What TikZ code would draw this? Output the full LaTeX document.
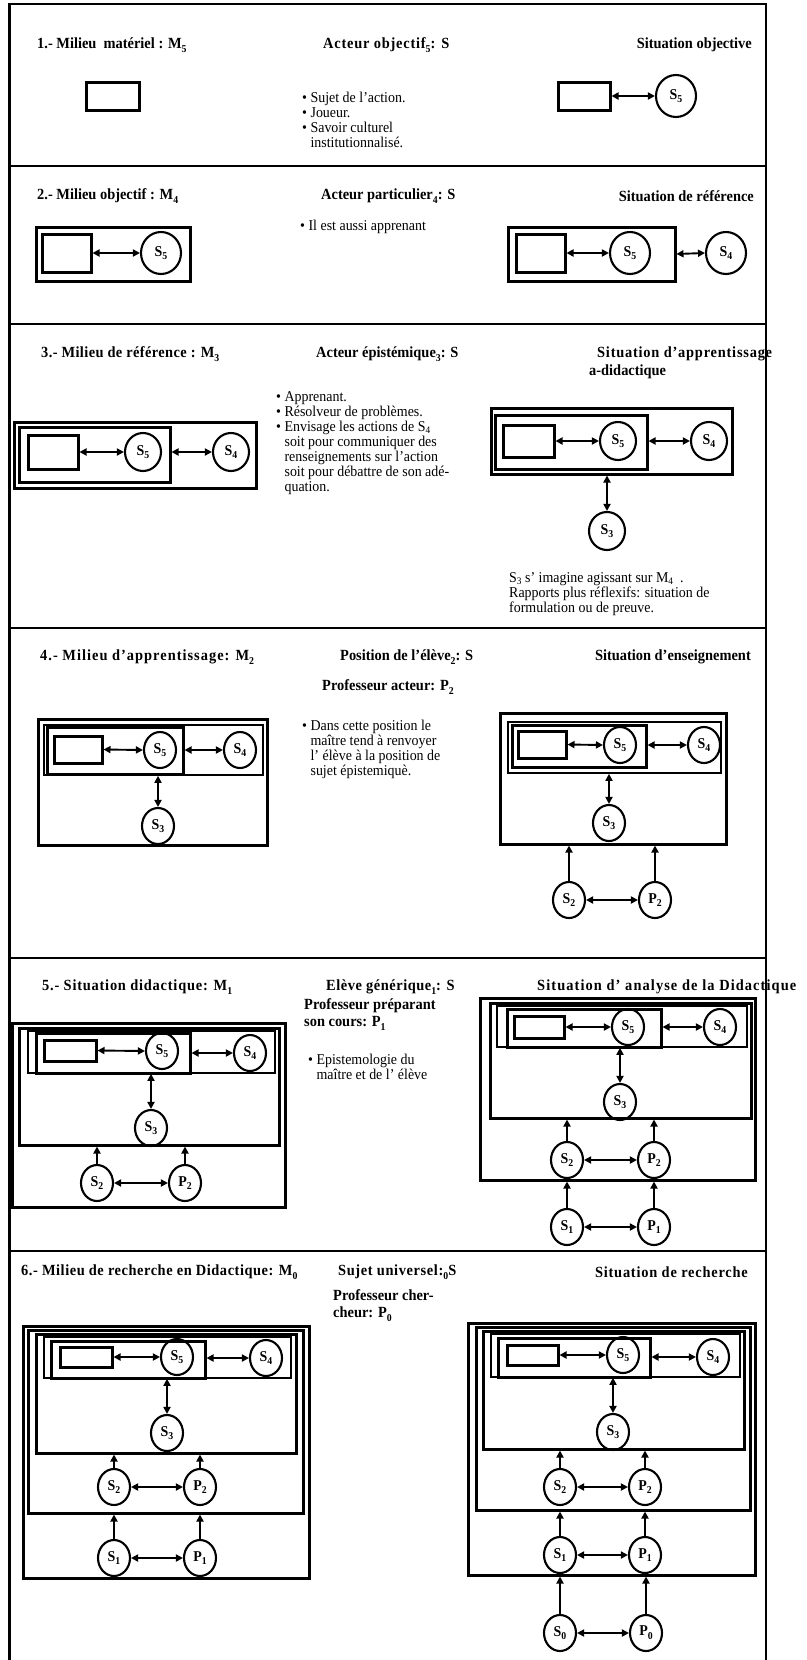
\documentclass[tikz,border=0pt]{standalone}
\usepackage{fontspec}
\setmainfont{Liberation Serif}[FakeStretch=0.93]
\usetikzlibrary{positioning,fit,shapes.geometric,arrows.meta}
\newcommand\ix[1]{\raisebox{-0.55ex}{\fontsize{10.5}{10.5}\selectfont #1}}
\newcommand\jx[1]{\raisebox{-0.35ex}{\fontsize{10}{10}\selectfont #1}}
\newcommand\titlefont{\fontsize{15.5}{17}\selectfont\bfseries}
\newcommand\bodyfont{\fontsize{15}{15}\selectfont}
\newcommand\agentfont{\fontsize{15}{16}\selectfont\bfseries}
\newcommand\suite{\phantom{\textbullet\ }}

\begin{document}
\begin{tikzpicture}[x=1pt, y=-1pt,
  cadre/.style={line width=2.4pt},
  sep/.style={line width=2.6pt},
  titre/.style={font=\titlefont, inner sep=0pt},
  espace/.style={font=\titlefont\addfontfeature{LetterSpace=#1}},
  texte/.style={font=\bodyfont, align=left, inner sep=0pt, anchor=north west},
  epais/.style={draw, line width=3pt, inner sep=0pt},
  mince/.style={draw, line width=1.6pt, inner sep=0pt},
  agent/.style={ellipse, draw, line width=2.1pt, inner sep=0pt,
                minimum width=32pt, minimum height=36pt, font=\agentfont},
  grand/.style={minimum width=40pt, minimum height=42pt},
  moyen/.style={minimum width=36pt, minimum height=38pt},
  dbl/.style={{Triangle[length=7pt,width=7pt]}-{Triangle[length=7pt,width=7pt]}, line width=1.9pt},
  monte/.style={-{Triangle[length=7pt,width=7pt]}, line width=1.9pt}]
  \useasboundingbox (0,0) rectangle (806,1660);
  % --- frame and rows
  \draw[cadre] (9.5,1660) -- (9.5,4) -- (766,4) -- (766,1660);
  \foreach \y in {166,324,628,958,1251}
    \draw[sep] (9.5,\y) -- (766,\y);

  % --- 1. milieu materiel
  \node[titre, anchor=west] (t1) at (37,45)  {1.- Milieu~ matériel : M\ix{5}};
  \node[titre, espace=5, anchor=west] (a1) at (323,45) {Acteur objectif\ix{5}: S};
  \node[titre, anchor=east] (s1) at (752,45) {Situation objective};
  \node[texte] (b1) at (302,92) {\textbullet\ Sujet de l'action.\\ \textbullet\ Joueur.\\
    \textbullet\ Savoir culturel\\ \suite institutionnalisé.};
  \node[epais, fit={(86,82) (139,110)}] (m5g1) {};
  \node[epais, fit={(558,82) (610,110)}] (m5d1) {};
  \node[agent, grand] (s5d1) at (676,96) {S\ix{5}};
  \draw[dbl] (m5d1.east) -- (s5d1.west);

  % --- 2. milieu objectif
  \node[titre, anchor=west] (t2) at (37,196)  {2.- Milieu objectif : M\ix{4}};
  \node[titre, anchor=west] (a2) at (321,196) {Acteur particulier\ix{4}: S};
  \node[titre, anchor=east] (s2) at (754,196) {Situation de référence};
  \node[texte] (b2) at (300,220) {\textbullet\ Il est aussi apprenant};
  \node[epais, fit={(36,227) (190,281)}] (m4g2) {};
  \node[epais, fit={(42,234) (91,272)}] (m5g2) {};
  \node[agent, grand] (s5g2) at (161,253) {S\ix{5}};
  \draw[dbl] (m5g2.east) -- (s5g2.west);
  \node[epais, fit={(508,227) (675,281)}] (m4d2) {};
  \node[epais, fit={(516,234) (565,272)}] (m5d2) {};
  \node[agent, grand] (s5d2) at (630,253) {S\ix{5}};
  \node[agent, grand] (s4d2) at (726,253) {S\ix{4}};
  \draw[dbl] (m5d2.east) -- (s5d2.west);
  \draw[dbl] (m4d2.east) -- (s4d2.west);

  % --- 3. milieu de reference
  \node[titre, espace=2.5, anchor=west] (t3) at (41,354) {3.- Milieu de référence : M\ix{3}};
  \node[titre, anchor=west] (a3) at (316,354)  {Acteur épistémique\ix{3}: S};
  \node[titre, espace=5, anchor=west] (s3) at (597,354) {Situation d'apprentissage};
  \node[titre, anchor=west] (s3b) at (589,372) {a-didactique};
  \node[texte] (b3) at (276,391) {\textbullet\ Apprenant.\\ \textbullet\ Résolveur de problèmes.\\
    \textbullet\ Envisage les actions de S\jx{4}\\ \suite soit pour communiquer des\\
    \suite renseignements sur l'action\\ \suite soit pour débattre de son adé-\\ \suite quation.};
  \node[epais, fit={(14,422) (256,488)}] (m3g3) {};
  \node[epais, fit={(19,427) (170,482)}] (m4g3) {};
  \node[epais, fit={(28,435) (78,469)}] (m5g3) {};
  \node[agent, moyen] (s5g3) at (143,452) {S\ix{5}};
  \node[agent, moyen] (s4g3) at (231,452) {S\ix{4}};
  \draw[dbl] (m5g3.east) -- (s5g3.west);
  \draw[dbl] (m4g3.east |- s4g3) -- (s4g3.west);
  \node[epais, fit={(491,408) (732,474)}] (m3d3) {};
  \node[epais, fit={(495,415) (647,469)}] (m4d3) {};
  \node[epais, fit={(503,425) (554,457)}] (m5d3) {};
  \node[agent, moyen] (s5d3) at (618,441) {S\ix{5}};
  \node[agent, moyen] (s4d3) at (709,441) {S\ix{4}};
  \node[agent, moyen] (s3d3) at (607,531) {S\ix{3}};
  \draw[dbl] (m5d3.east) -- (s5d3.west);
  \draw[dbl] (m4d3.east |- s4d3) -- (s4d3.west);
  \draw[dbl] (s3d3 |- m3d3.south) -- (s3d3.north);
  \node[texte] (n3) at (509,572) {S\jx{3} s' imagine agissant sur M\jx{4}~~.\\
    Rapports plus réflexifs: situation de\\ formulation ou de preuve.};

  % --- 4. milieu d'apprentissage
  \node[titre, espace=6.5, anchor=west] (t4) at (40,657) {4.- Milieu d'apprentissage: M\ix{2}};
  \node[titre, anchor=west] (a4) at (340,657) {Position de l'élève\ix{2}: S};
  \node[titre, anchor=west] (p4) at (322,687) {Professeur acteur: P\ix{2}};
  \node[titre, anchor=east] (s4) at (751,657) {Situation d'enseignement};
  \node[texte] (b4) at (302,720) {\textbullet\ Dans cette position le\\ \suite maître tend à renvoyer\\
    \suite l' élève à la position de\\ \suite sujet épistemiquè.};
  \node[epais, fit={(38,719) (267,845)}] (m2g4) {};
  \node[mince, fit={(44,725) (263,775)}] (m3g4) {};
  \node[epais, fit={(47,727) (183,774)}] (m4g4) {};
  \node[epais, fit={(54,736) (102,763)}] (m5g4) {};
  \node[agent] (s5g4) at (160,750) {S\ix{5}};
  \node[agent] (s4g4) at (240,750) {S\ix{4}};
  \node[agent] (s3g4) at (158,826) {S\ix{3}};
  \draw[dbl] (m5g4.east) -- (s5g4.west);
  \draw[dbl] (m4g4.east |- s4g4) -- (s4g4.west);
  \draw[dbl] (s3g4 |- m3g4.south) -- (s3g4.north);
  \node[epais, fit={(500,713) (726,844)}] (m2d4) {};
  \node[mince, fit={(508,722) (721,773)}] (m3d4) {};
  \node[epais, fit={(512,725) (646,767)}] (m4d4) {};
  \node[epais, fit={(518,731) (566,758)}] (m5d4) {};
  \node[agent] (s5d4) at (620,745) {S\ix{5}};
  \node[agent] (s4d4) at (704,745) {S\ix{4}};
  \node[agent] (s3d4) at (609,823) {S\ix{3}};
  \node[agent] (s2d4) at (569,900) {S\ix{2}};
  \node[agent] (p2d4) at (655,900) {P\ix{2}};
  \draw[dbl] (m5d4.east) -- (s5d4.west);
  \draw[dbl] (m4d4.east |- s4d4) -- (s4d4.west);
  \draw[dbl] (s3d4 |- m3d4.south) -- (s3d4.north);
  \draw[monte] (s2d4.north) -- (s2d4 |- m2d4.south);
  \draw[monte] (p2d4.north) -- (p2d4 |- m2d4.south);
  \draw[dbl] (s2d4.east) -- (p2d4.west);

  % --- 5. situation didactique
  \node[titre, espace=5, anchor=west] (t5) at (42,987) {5.- Situation didactique: M\ix{1}};
  \node[titre, espace=3.5, anchor=west] (a5) at (326,987) {Elève générique\ix{1}: S};
  \node[titre, anchor=north west, align=left] (p5) at (304,998) {Professeur préparant\\ son cours: P\ix{1}};
  \node[titre, espace=7, anchor=west] (s5) at (537,987) {Situation d' analyse de la Didactique};
  \node[texte] (b5) at (308,1054) {\textbullet\ Epistemologie du\\ \suite maître et de l' élève};
  \node[epais, fit={(12,1023) (285,1207)}] (m1g5) {};
  \node[epais, fit={(19,1028) (279,1145)}] (m2g5) {};
  \node[mince, fit={(28,1031) (275,1073)}] (m3g5) {};
  \node[epais, fit={(36,1033) (190,1073)}] (m4g5) {};
  \node[epais, fit={(44,1040) (96,1061)}] (m5g5) {};
  \node[agent] (s5g5) at (162,1051) {S\ix{5}};
  \node[agent] (s4g5) at (250,1053) {S\ix{4}};
  \node[agent] (s3g5) at (151,1128) {S\ix{3}};
  \node[agent] (s2g5) at (97,1183)  {S\ix{2}};
  \node[agent] (p2g5) at (185,1183) {P\ix{2}};
  \draw[dbl] (m5g5.east) -- (s5g5.west);
  \draw[dbl] (m4g5.east |- s4g5) -- (s4g5.west);
  \draw[dbl] (s3g5 |- m3g5.south) -- (s3g5.north);
  \draw[monte] (s2g5.north) -- (s2g5 |- m2g5.south);
  \draw[monte] (p2g5.north) -- (p2g5 |- m2g5.south);
  \draw[dbl] (s2g5.east) -- (p2g5.west);
  \node[epais, fit={(480,998) (755,1180)}] (m1d5) {};
  \node[epais, fit={(490,1003) (751,1118)}] (m2d5) {};
  \node[mince, fit={(497,1006) (747,1047)}] (m3d5) {};
  \node[epais, fit={(507,1009) (661,1047)}] (m4d5) {};
  \node[epais, fit={(514,1016) (564,1038)}] (m5d5) {};
  \node[agent] (s5d5) at (628,1027) {S\ix{5}};
  \node[agent] (s4d5) at (720,1027) {S\ix{4}};
  \node[agent] (s3d5) at (620,1102) {S\ix{3}};
  \node[agent] (s2d5) at (567,1160) {S\ix{2}};
  \node[agent] (p2d5) at (654,1160) {P\ix{2}};
  \node[agent] (s1d5) at (567,1227) {S\ix{1}};
  \node[agent] (p1d5) at (654,1227) {P\ix{1}};
  \draw[dbl] (m5d5.east) -- (s5d5.west);
  \draw[dbl] (m4d5.east |- s4d5) -- (s4d5.west);
  \draw[dbl] (s3d5 |- m3d5.south) -- (s3d5.north);
  \draw[monte] (s2d5.north) -- (s2d5 |- m2d5.south);
  \draw[monte] (p2d5.north) -- (p2d5 |- m2d5.south);
  \draw[dbl] (s2d5.east) -- (p2d5.west);
  \draw[monte] (s1d5.north) -- (s1d5 |- m1d5.south);
  \draw[monte] (p1d5.north) -- (p1d5 |- m1d5.south);
  \draw[dbl] (s1d5.east) -- (p1d5.west);

  % --- 6. milieu de recherche
  \node[titre, espace=3.5, anchor=west] (t6) at (21,1272) {6.- Milieu de recherche en Didactique: M\ix{0}};
  \node[titre, espace=4, anchor=west] (a6) at (338,1272) {Sujet universel:\ix{0}S};
  \node[titre, anchor=north west, align=left] (p6) at (333,1289) {Professeur cher-\\ cheur: P\ix{0}};
  \node[titre, espace=5, anchor=east] (s6) at (748,1272) {Situation de recherche};
  \node[epais, fit={(23,1326) (309,1578)}] (m0g6) {};
  \node[epais, fit={(28,1330) (303,1513)}] (m1g6) {};
  \node[epais, fit={(36,1334) (296,1453)}] (m2g6) {};
  \node[mince, fit={(44,1337) (291,1378)}] (m3g6) {};
  \node[epais, fit={(51,1341) (205,1378)}] (m4g6) {};
  \node[epais, fit={(60,1347) (112,1367)}] (m5g6) {};
  \node[agent] (s5g6) at (177,1357) {S\ix{5}};
  \node[agent] (s4g6) at (266,1358) {S\ix{4}};
  \node[agent] (s3g6) at (167,1433) {S\ix{3}};
  \node[agent] (s2g6) at (114,1487) {S\ix{2}};
  \node[agent] (p2g6) at (200,1487) {P\ix{2}};
  \node[agent] (s1g6) at (114,1558) {S\ix{1}};
  \node[agent] (p1g6) at (200,1558) {P\ix{1}};
  \draw[dbl] (m5g6.east) -- (s5g6.west);
  \draw[dbl] (m4g6.east |- s4g6) -- (s4g6.west);
  \draw[dbl] (s3g6 |- m3g6.south) -- (s3g6.north);
  \draw[monte] (s2g6.north) -- (s2g6 |- m2g6.south);
  \draw[monte] (p2g6.north) -- (p2g6 |- m2g6.south);
  \draw[dbl] (s2g6.east) -- (p2g6.west);
  \draw[monte] (s1g6.north) -- (s1g6 |- m1g6.south);
  \draw[monte] (p1g6.north) -- (p1g6 |- m1g6.south);
  \draw[dbl] (s1g6.east) -- (p1g6.west);
  \node[epais, fit={(468,1323) (755,1575)}] (m0d6) {};
  \node[epais, fit={(476,1327) (750,1510)}] (m1d6) {};
  \node[epais, fit={(483,1331) (744,1449)}] (m2d6) {};
  \node[mince, fit={(491,1334) (740,1377)}] (m3d6) {};
  \node[epais, fit={(498,1338) (650,1377)}] (m4d6) {};
  \node[epais, fit={(507,1345) (558,1365)}] (m5d6) {};
  \node[agent] (s5d6) at (623,1355) {S\ix{5}};
  \node[agent] (s4d6) at (713,1357) {S\ix{4}};
  \node[agent] (s3d6) at (613,1432) {S\ix{3}};
  \node[agent] (s2d6) at (560,1487) {S\ix{2}};
  \node[agent] (p2d6) at (645,1487) {P\ix{2}};
  \node[agent] (s1d6) at (560,1555) {S\ix{1}};
  \node[agent] (p1d6) at (645,1555) {P\ix{1}};
  \node[agent] (s0d6) at (560,1633) {S\ix{0}};
  \node[agent] (p0d6) at (646,1633) {P\ix{0}};
  \draw[dbl] (m5d6.east) -- (s5d6.west);
  \draw[dbl] (m4d6.east |- s4d6) -- (s4d6.west);
  \draw[dbl] (s3d6 |- m3d6.south) -- (s3d6.north);
  \draw[monte] (s2d6.north) -- (s2d6 |- m2d6.south);
  \draw[monte] (p2d6.north) -- (p2d6 |- m2d6.south);
  \draw[dbl] (s2d6.east) -- (p2d6.west);
  \draw[monte] (s1d6.north) -- (s1d6 |- m1d6.south);
  \draw[monte] (p1d6.north) -- (p1d6 |- m1d6.south);
  \draw[dbl] (s1d6.east) -- (p1d6.west);
  \draw[monte] (s0d6.north) -- (s0d6 |- m0d6.south);
  \draw[monte] (p0d6.north) -- (p0d6 |- m0d6.south);
  \draw[dbl] (s0d6.east) -- (p0d6.west);
\end{tikzpicture}
\end{document}
